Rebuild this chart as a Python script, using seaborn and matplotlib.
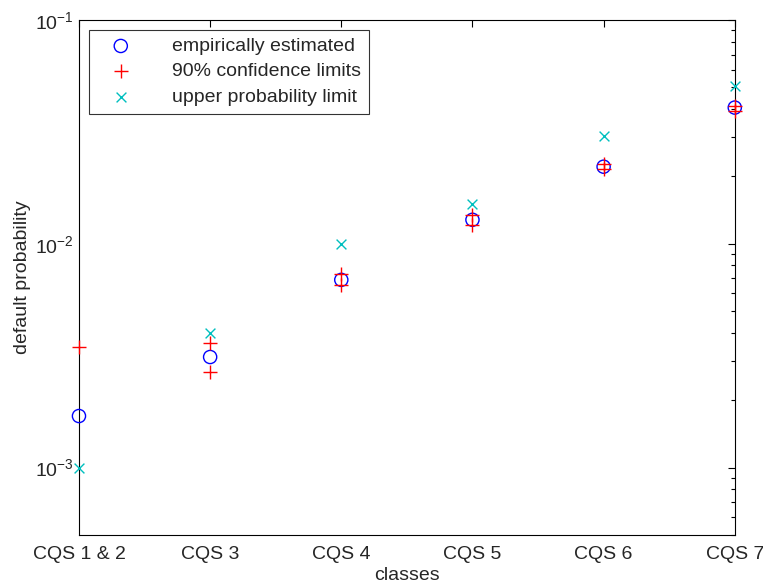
import numpy as np
import pandas as pd
import matplotlib
matplotlib.use("Agg")
import matplotlib.pyplot as plt
import seaborn as sns
from matplotlib.ticker import LogLocator, NullFormatter

classes = ["CQS 1 & 2", "CQS 3", "CQS 4", "CQS 5", "CQS 6", "CQS 7"]
empirical = [0.0017, 0.00312, 0.0069, 0.0128, 0.0221, 0.0406]
conf_upper = [0.00346, 0.00359, 0.00731, 0.01346, 0.0227, 0.0413]
conf_lower = [np.nan, 0.00267, 0.00653, 0.01213, 0.0215, 0.0392]
upper_limit = [0.001, 0.0040, 0.0100, 0.0151, 0.0303, 0.0507]

sns.set_style("white")
plt.rcParams['font.family'] = ['Liberation Sans', 'DejaVu Sans']

x = np.arange(1, len(classes) + 1)
df = pd.DataFrame({"x": x, "emp": empirical, "up": conf_upper,
                   "lo": conf_lower, "lim": upper_limit})

fig = plt.figure(figsize=(7.63, 5.87), dpi=100)
ax = fig.add_axes([0.1035, 0.0886, 0.8595, 0.8774])

sns.scatterplot(data=df, x="x", y="emp", ax=ax, marker="o", s=90,
                facecolors="none", edgecolor="#0000ff", linewidth=1.0,
                label="empirically estimated", zorder=3, clip_on=False)
conf = pd.concat([df[["x", "up"]].rename(columns={"up": "v"}),
                  df[["x", "lo"]].rename(columns={"lo": "v"})]).dropna()
sns.scatterplot(data=conf, x="x", y="v", ax=ax, marker="+", s=100,
                color="#ff0000", linewidth=1.0,
                label="90% confidence limits", zorder=4, clip_on=False)
sns.scatterplot(data=df, x="x", y="lim", ax=ax, marker="x", s=50,
                color="#00bfbf", linewidth=1.0,
                label="upper probability limit", zorder=4, clip_on=False)

ax.set_yscale("log")
ax.set_ylim(5e-4, 1e-1)
ax.set_xlim(1, 6)
ax.set_xticks(x)
ax.set_xticklabels(classes)
ax.yaxis.set_major_locator(LogLocator(base=10, numticks=10))
ax.yaxis.set_minor_locator(LogLocator(base=10, subs=np.arange(2, 10), numticks=10))
ax.yaxis.set_minor_formatter(NullFormatter())
ax.set_xlabel("classes", fontsize=14, labelpad=3)
ax.set_ylabel("default probability", fontsize=14, labelpad=3)
ax.tick_params(axis="both", which="both", direction="in", top=True, right=True,
               labelsize=14, color="black")
ax.tick_params(which="major", length=5, width=0.8)
ax.tick_params(which="minor", length=3, width=0.8)
ax.tick_params(axis="x", pad=8)
for s in ax.spines.values():
    s.set_color("black")
    s.set_linewidth(0.8)

leg = ax.legend(loc="upper left", fontsize=14, frameon=True, fancybox=False,
                edgecolor="black", borderaxespad=0.5, handletextpad=1.4,
                handlelength=2.5, borderpad=0.4, labelspacing=0.4)
leg.get_frame().set_linewidth(0.8)

fig.savefig("out.png", dpi=100)
